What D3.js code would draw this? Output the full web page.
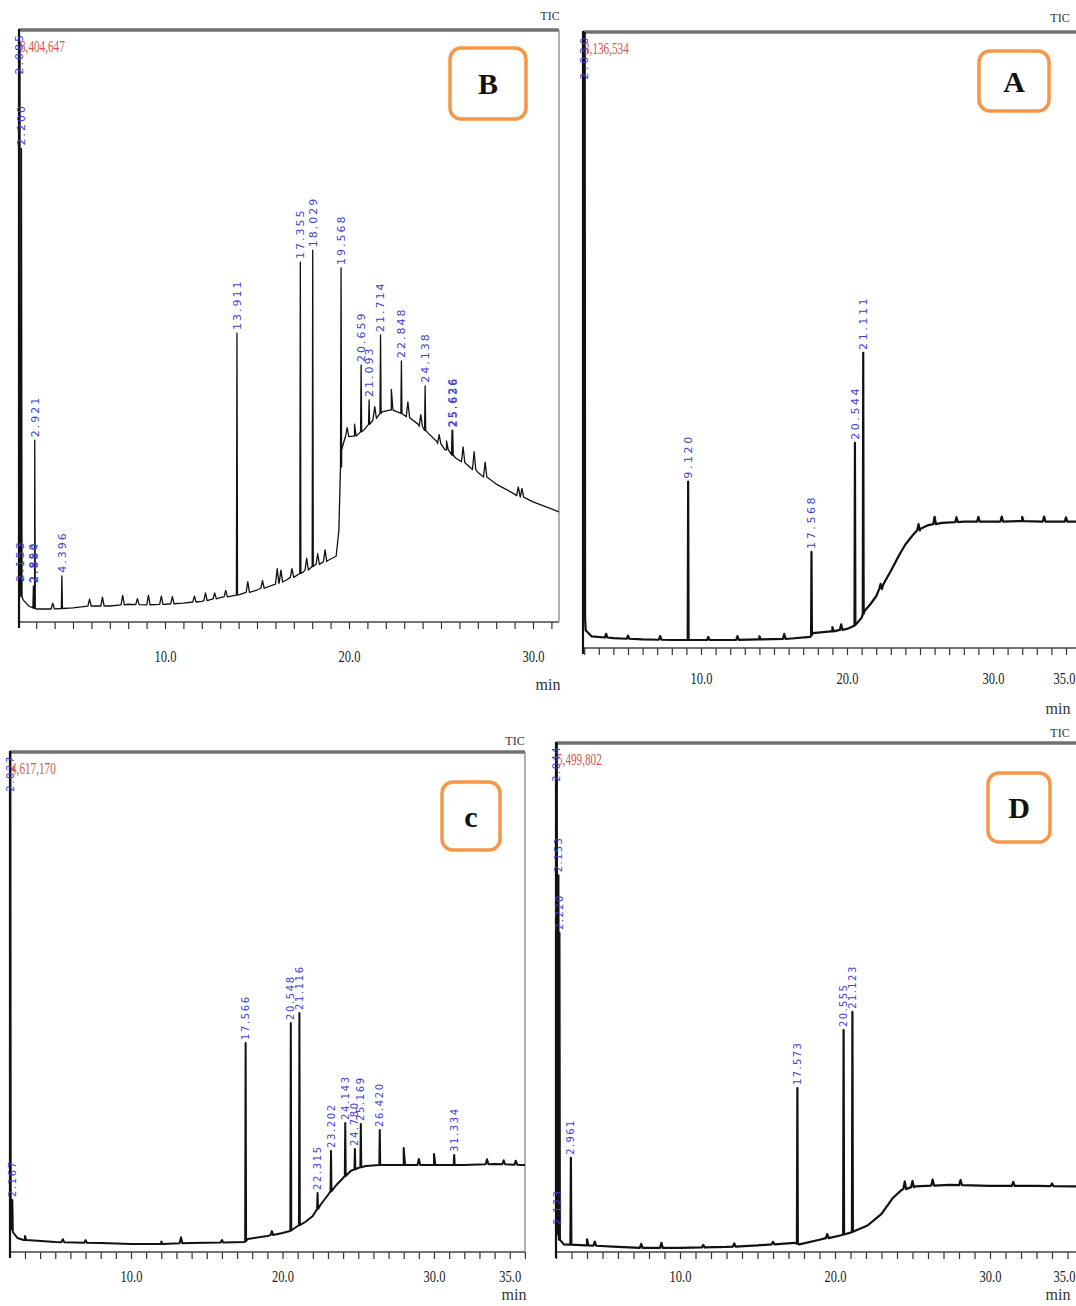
<!DOCTYPE html>
<html><head><meta charset="utf-8">
<script src="https://cdn.jsdelivr.net/npm/d3@7"></script>
<style>body{margin:0;background:#fff}svg{display:block}</style>
</head><body>
<script>
// ---------------- DATA (retention time in min, intensity in % of full scale) ----------------
const tickValues = [10, 20, 30, 35];
const tickLabels = ["10.0", "20.0", "30.0", "35.0"];
const tickValuesB = [10, 20, 30];
const tickLabelsB = ["10.0", "20.0", "30.0"];

// Panel B
const intensityB = "8,404,647";
const baselineB = [[2.065,5.1],[2.3,3.7],[2.6,2.7],[3.0,2.2],[4.0,2.2],[5.0,2.4],[6.0,2.7],[7.0,2.7],[8.0,3.0],[9.0,2.9],[10.0,3.0],[11.0,3.2],[12.0,3.5],[13.0,4.1],[14.0,4.6],[15.0,5.4],[16.0,6.4],[16.6,7.1],[17.5,8.4],[18.1,9.5],[18.8,10.3],[19.3,11.1],[19.45,15.5],[19.6,29.1],[19.8,31.3],[20.3,31.4],[20.8,32.4],[21.3,34.1],[21.8,35.5],[22.3,35.8],[22.8,35.3],[23.3,34.5],[23.8,33.3],[24.3,31.9],[24.8,30.4],[25.3,29.1],[25.8,27.7],[26.3,26.9],[27.0,25.3],[28.0,23.3],[29.0,21.6],[30.0,20.3],[31.0,19.1],[31.4,18.6]];
const peaksB = [[2.085,120,"2.085"],[2.12,98,""],[2.153,6.3,"2.153"],[2.200,80,"2.200"],[2.850,6.1,"2.850"],[2.884,6.1,"2.884"],[2.921,30.7,"2.921"],[4.396,7.8,"4.396"],[13.911,48.8,"13.911"],[17.355,60.8,"17.355"],[18.029,62.8,"18.029"],[19.568,59.8,"19.568"],[20.659,43.4,"20.659"],[21.093,37.5,"21.093"],[21.714,48.5,"21.714"],[22.848,44.1,"22.848"],[24.138,39.9,"24.138"],[25.600,32.4,"25.626"],[25.636,32.4,"25.636"]];
const bumpsB = [[3.9,1.0],[5.9,1.2],[6.6,1.5],[7.7,1.6],[8.5,1.0],[9.1,1.6],[9.8,1.4],[10.4,1.2],[11.6,1.0],[12.2,1.3],[12.7,1.0],[13.3,1.1],[14.5,1.8],[15.3,1.3],[16.1,2.5],[16.3,2.0],[16.9,1.5],[17.7,2.0],[18.3,1.8],[18.7,2.0],[19.9,1.5],[20.3,2.0],[21.4,2.0],[22.3,3.5],[23.2,2.5],[23.9,2.0],[24.9,1.5],[25.3,1.5],[26.2,2.5],[26.8,3.0],[27.4,2.5],[29.2,1.5],[29.4,1.5]];

// Panel A
const intensityA = "3,136,534";
const baselineA = [[1.92,7.8],[2.1,2.9],[2.5,1.9],[4,1.6],[6,1.4],[8,1.3],[10,1.3],[12,1.3],[14,1.4],[16,1.5],[17.5,1.8],[17.65,2.4],[19,2.7],[20,3.1],[20.5,3.6],[21.0,4.9],[21.2,6.0],[21.6,7.1],[22.0,8.4],[22.5,10.4],[23.0,12.5],[23.6,15.2],[24.0,16.8],[24.5,18.3],[25.0,19.3],[25.5,19.9],[26.5,20.3],[28,20.5],[30,20.5],[32,20.6],[34,20.5],[35.9,20.5]];
const peaksA = [[2.00,9.5,""],[2.03,120,"2.030"],[9.120,27.0,"9.120"],[17.568,15.6,"17.568"],[20.544,33.3,"20.544"],[21.111,47.9,"21.111"]];
const bumpsA = [[3.5,0.6],[5.0,0.5],[7.2,0.6],[10.5,0.5],[12.5,0.6],[14.0,0.5],[15.7,0.8],[19.0,0.7],[19.6,0.9],[22.3,0.8],[24.9,1.0],[26.0,1.2],[27.5,0.8],[29.0,0.8],[30.6,0.8],[32.0,0.7],[33.5,0.8],[35.0,0.7]];

// Panel c
const intensityC = "4,617,170";
const baselineC = [[2.0,7.4],[2.2,4.0],[2.5,2.8],[3,2.4],[5,2.0],[8,1.8],[10,1.6],[12,1.6],[14,1.8],[17.5,2.0],[17.7,2.6],[19,3.2],[20,3.8],[20.5,4.2],[21.0,5.2],[21.5,6.0],[22.0,7.2],[22.5,9.4],[23.0,11.4],[23.5,13.2],[24.0,14.8],[24.5,16.2],[25.0,16.8],[25.5,17.2],[26.5,17.4],[28,17.4],[30,17.4],[32,17.4],[34,17.6],[36.04,17.4]];
const peaksC = [[2.03,120,"2.027"],[2.167,10.4,"2.167"],[17.566,41.8,"17.566"],[20.548,45.8,"20.548"],[21.116,47.8,"21.116"],[22.315,11.8,"22.315"],[23.202,20.2,"23.202"],[24.143,25.8,"24.143"],[24.780,20.6,"24.780"],[25.169,25.6,"25.169"],[26.420,24.4,"26.420"],[31.334,19.4,"31.334"]];
const bumpsC = [[3.0,0.8],[5.5,0.6],[7.0,0.5],[12.0,0.5],[13.3,1.2],[16.0,0.5],[19.3,0.8],[28.0,3.4],[29.0,1.2],[30.0,2.2],[33.5,1.0],[34.6,0.8],[35.4,0.8]];

// Panel D
const intensityD = "5,499,802";
const baselineD = [[2.0,6.5],[2.2,2.5],[2.5,1.5],[4,1.3],[6,1.0],[7.6,0.8],[10,0.8],[13,1.0],[15,1.3],[17.4,1.8],[17.7,1.5],[19,2.4],[20.4,3.3],[21.0,3.8],[22.1,5.2],[23.0,7.5],[23.7,10.5],[24.3,12.2],[25.2,12.9],[27.4,13.2],[30,13.0],[33,13.0],[35.4,12.9],[36.6,12.9]];
const peaksD = [[2.044,120,"2.044"],[2.12,4.7,"2.123"],[2.153,74,"2.153"],[2.220,62.7,"2.220"],[2.961,18.5,"2.961"],[17.573,32.2,"17.573"],[20.555,43.6,"20.555"],[21.123,47.2,"21.123"]];
const bumpsD = [[4.0,1.2],[4.5,0.8],[7.5,0.8],[8.8,1.0],[11.5,0.5],[13.5,0.6],[16.0,0.5],[19.5,0.8],[24.5,1.5],[25.0,1.2],[26.3,1.2],[28.1,1.0],[31.5,0.8],[34.0,0.5]];

// ---------------- LAYOUT ----------------
const W = 1076, H = 1306;
const svg = d3.select("body").append("svg").attr("width", W).attr("height", H);

const panels = [
  {id:"B", letter:"B", base:baselineB, peaks:peaksB, bumps:bumpsB, tv:tickValuesB, tl:tickLabelsB, inten:intensityB,
   left:19, right:559, top:30, axis:622, x10:165, x30:533, pad:22, fs:11, ls:2, sw:1.3, rightFrame:true,
   box:[450,48,76,71], tic:[550,20,"TIC"], min:[548,690]},
  {id:"A", letter:"A", base:baselineA, peaks:peaksA, bumps:bumpsA, tv:tickValues, tl:tickLabels, inten:intensityA,
   left:583, right:1090, top:32, axis:648, x10:701, x30:993, pad:18, fs:11, ls:2.6, sw:2.2, rightFrame:false,
   box:[979,51,70,60], tic:[1060,22,"TIC"], min:[1058,714]},
  {id:"C", letter:"c", base:baselineC, peaks:peaksC, bumps:bumpsC, tv:tickValues, tl:tickLabels, inten:intensityC,
   left:10, right:525, top:752, axis:1252, x10:131, x30:434, pad:12, fs:10, ls:1.6, sw:2, rightFrame:true,
   box:[442,782,58,68], tic:[515,745,"TIC"], min:[514,1300]},
  {id:"D", letter:"D", base:baselineD, peaks:peaksD, bumps:bumpsD, tv:tickValues, tl:tickLabels, inten:intensityD,
   left:556, right:1090, top:743, axis:1252, x10:680, x30:990, pad:12, fs:10, ls:1.4, sw:2.2, rightFrame:false,
   box:[988,773,62,69], tic:[1060,737,"TIC"], min:[1058,1300]}
];

const defs = svg.append("defs");

panels.forEach(c => {
  const x = d3.scaleLinear().domain([10, 30]).range([c.x10, c.x30]);
  const y = d3.scaleLinear().domain([0, 100]).range([c.axis, c.top]);
  const tMin = x.invert(c.left), tMax = x.invert(Math.min(c.right, W + 20));
  const g = svg.append("g");

  defs.append("clipPath").attr("id", "clip" + c.id).append("rect")
    .attr("x", c.left).attr("y", c.top).attr("width", c.right - c.left).attr("height", c.axis - c.top);

  // ticks
  const ticks = d3.range(Math.ceil(tMin), Math.floor(tMax) + 1);
  const ax = d3.axisBottom(x).tickValues(ticks).tickSize(7).tickPadding(c.pad)
    .tickFormat(t => { const i = c.tv.indexOf(t); return i >= 0 ? c.tl[i] : ""; });
  const ag = g.append("g").attr("transform", `translate(0,${c.axis})`).call(ax);
  ag.select(".domain").remove();
  ag.selectAll("line").attr("stroke", "#333").attr("stroke-width", 1.2);
  ag.selectAll("text").attr("font-family", "Liberation Serif").attr("font-size", 16)
    .attr("fill", "#222").attr("transform", "scale(0.78,1)");
  // keep the right-most tick label inside the picture
  ag.selectAll(".tick").each(function(t) {
    const half = 11;
    if (x(t) + half > W - 1) d3.select(this).select("text").attr("dx", (W - 1 - half - x(t)) / 0.78);
  });

  // frame
  g.append("line").attr("x1", c.left).attr("x2", c.right).attr("y1", c.axis).attr("y2", c.axis)
    .attr("stroke", "#444").attr("stroke-width", 1.5);
  g.append("line").attr("x1", c.left).attr("x2", c.right).attr("y1", c.top).attr("y2", c.top)
    .attr("stroke", "#707070").attr("stroke-width", 3.5);
  if (c.rightFrame) g.append("line").attr("x1", c.right).attr("x2", c.right).attr("y1", c.top).attr("y2", c.axis)
    .attr("stroke", "#888").attr("stroke-width", 1.3);
  g.append("line").attr("x1", c.left).attr("x2", c.left).attr("y1", c.top - 1).attr("y2", c.axis + 6)
    .attr("stroke", "#111").attr("stroke-width", 2.2);

  // trace: baseline points merged with peak spikes
  const bs = d3.scaleLinear().domain(c.base.map(d => d[0])).range(c.base.map(d => d[1])).clamp(true);
  const pts = c.base.map(d => [d[0], d[1]]);
  c.peaks.forEach(p => { const b = bs(p[0]); pts.push([p[0] - 0.03, b], [p[0], p[1]], [p[0] + 0.03, b]); });
  c.bumps.forEach(p => { const b = bs(p[0]); pts.push([p[0] - 0.09, b], [p[0], b + p[1]], [p[0] + 0.09, b]); });
  pts.sort((a, b) => a[0] - b[0]);
  g.append("path").attr("clip-path", `url(#clip${c.id})`)
    .attr("d", d3.line().x(d => x(d[0])).y(d => y(d[1]))(pts))
    .attr("fill", "none").attr("stroke", "#111").attr("stroke-width", c.sw).attr("stroke-linejoin", "round");

  // peak labels
  c.peaks.filter(p => p[2]).forEach(p => {
    const off = p[1] >= 100;
    const px = x(p[0]), py = off ? c.top + 3 : y(p[1]) - 3;
    g.append("text").attr("transform", `translate(${px},${py}) rotate(-90)`)
      .attr("dy", "0.35em").attr("text-anchor", off ? "end" : "start")
      .attr("font-family", "DejaVu Sans").attr("font-size", c.fs).attr("letter-spacing", c.ls)
      .attr("fill", "#3f3fd0").text(p[2]);
  });

  // intensity (red)
  g.append("text").attr("x", c.left + 1).attr("y", c.top + 22).attr("font-family", "Liberation Serif")
    .attr("font-size", 16).attr("fill", "#d9534f")
    .attr("transform", `translate(${(c.left + 1) * (1 - 0.7)},0) scale(0.7,1)`).text(c.inten);

  // TIC and min
  g.append("text").attr("x", c.tic[0]).attr("y", c.tic[1]).attr("font-family", "Liberation Serif")
    .attr("font-size", 12).attr("fill", "#333").attr("text-anchor", "middle").text(c.tic[2]);
  g.append("text").attr("x", c.min[0]).attr("y", c.min[1]).attr("font-family", "Liberation Serif")
    .attr("font-size", 16).attr("fill", "#333").attr("text-anchor", "middle").text("min");

  // letter box
  g.append("rect").attr("x", c.box[0]).attr("y", c.box[1]).attr("width", c.box[2]).attr("height", c.box[3])
    .attr("rx", 11).attr("fill", "#fff").attr("stroke", "#F79646").attr("stroke-width", 3.5);
  g.append("text").attr("x", c.box[0] + c.box[2] / 2).attr("y", c.box[1] + c.box[3] / 2)
    .attr("dy", "0.35em").attr("text-anchor", "middle").attr("font-family", "Liberation Serif")
    .attr("font-weight", "bold").attr("font-size", 30).attr("fill", "#111").text(c.letter);
});
</script>
</body></html>
